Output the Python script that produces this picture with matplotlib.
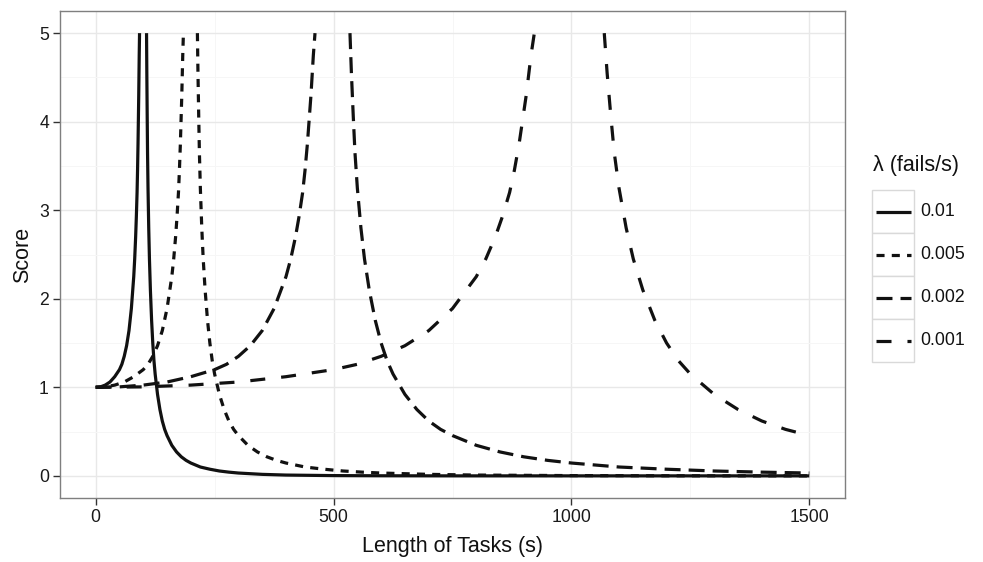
import matplotlib
matplotlib.use("Agg")
import matplotlib.pyplot as plt
from matplotlib.patches import Rectangle
from matplotlib.lines import Line2D

plt.rcParams['font.family'] = ['Liberation Sans', 'DejaVu Sans']
plt.rcParams['lines.scale_dashes'] = False

# values (y above 5 is cut off, so each curve has two branches)
rise_y = [1.0, 1.005, 1.025, 1.06, 1.12, 1.20, 1.26, 1.35, 1.47, 1.64, 1.89,
          2.25, 2.45, 2.7, 2.93, 3.2, 3.45, 3.75, 4.3, 4.75, 5.0]
fall_y = [5.0, 4.55, 4.05, 3.65, 3.25, 2.8, 2.45, 2.1, 1.76, 1.50, 1.30, 1.15,
          0.92, 0.75, 0.62, 0.525, 0.455, 0.345, 0.27, 0.215, 0.175, 0.145,
          0.10, 0.075, 0.055, 0.042, 0.032, 0.017, 0.009, 0.003, 0.001, 0.0,
          0.0, 0.0, 0.0]

x01_rise = [0, 10, 20, 30, 40, 50, 55, 60, 65, 70, 75, 80, 82, 84, 85.5, 87, 88,
            89, 90.5, 91.5, 92.2]
x01_fall = [106.9, 107.5, 108.3, 109, 110, 111.5, 113, 115, 117.5, 120, 122.5, 125,
            130, 135, 140, 145, 150, 160, 170, 180, 190, 200, 220, 240, 260, 280,
            300, 350, 400, 500, 600, 750, 1000, 1250, 1500]

x005_rise = [0, 20, 40, 60, 80, 100, 110, 120, 130, 140, 150, 160, 164, 168, 171,
             174, 176, 178, 181, 183, 184.4]
x005_fall = [213.8, 215, 216.6, 218, 220, 223, 226, 230, 235, 240, 245, 250, 260, 270,
             280, 290, 300, 320, 340, 360, 380, 400, 440, 480, 520, 560, 600, 700,
             800, 1000, 1200, 1500]

x002_rise = [0, 50, 100, 150, 200, 250, 275, 300, 325, 350, 375, 400, 410, 420, 427.5,
             435, 440, 445, 452.5, 457.5, 461]
x002_fall = [534.5, 537.5, 541.5, 545, 550, 557.5, 565, 575, 587.5, 600, 612.5, 625,
             650, 675, 700, 725, 750, 800, 850, 900, 950, 1000, 1100, 1200, 1300,
             1400, 1500]

x001_rise = [0, 100, 200, 300, 400, 500, 550, 600, 650, 700, 750, 800, 820, 840, 855,
             870, 880, 890, 905, 915, 922]
x001_fall = [1069, 1075, 1083, 1090, 1100, 1115, 1130, 1150, 1175, 1200, 1225, 1250,
             1300, 1350, 1400, 1450, 1500]

labels = ['0.01', '0.005', '0.002', '0.001']
series = [(x01_rise, x01_fall), (x005_rise, x005_fall),
          (x002_rise, x002_fall), (x001_rise, x001_fall)]
dashes = [None, (5.8, 5.2), (11.5, 5.8), (10.8, 11.5)]

lw = 2.3
fig = plt.figure(figsize=(9.83, 5.62), dpi=100)
ax = fig.add_axes([60/983, 1 - 498/562, 785/983, 487/562])

for (xr, xf), d in zip(series, dashes):
    for xs, ys in ((xr, rise_y[:len(xr)]), (xf, fall_y[:len(xf)])):
        ln, = ax.plot(xs, ys, color='#111111', lw=lw, solid_capstyle='butt',
                      dash_capstyle='butt')
        if d is not None:
            ln.set_dashes(d)

ax.set_xlim(-75, 1575)
ax.set_ylim(-0.25, 5.25)
ax.set_xticks([0, 500, 1000, 1500])
ax.set_xticks([250, 750, 1250], minor=True)
ax.set_yticks([0, 1, 2, 3, 4, 5])
ax.set_yticks([0.5, 1.5, 2.5, 3.5, 4.5], minor=True)
ax.grid(which='major', color='#E8E8E8', lw=1.0)
ax.grid(which='minor', color='#F6F6F6', lw=0.7)
ax.set_axisbelow(True)
for s in ax.spines.values():
    s.set_color('#7F7F7F')
    s.set_linewidth(1.0)
ax.tick_params(which='major', length=5, width=1.0, color='#333333',
               labelsize=12.7, labelcolor='#1a1a1a', pad=3)
ax.tick_params(which='minor', length=0)

ax.set_xlabel('Length of Tasks (s)', fontsize=15.5, color='#111111')
ax.set_ylabel('Score', fontsize=15.5, color='#111111')
ax.xaxis.set_label_coords(0.5, -0.078)
ax.yaxis.set_label_coords(-0.034, 0.5)

# legend drawn by hand in pixel coordinates
lg = fig.add_axes([0, 0, 1, 1])
lg.set_xlim(0, 983)
lg.set_ylim(562, 0)
lg.axis('off')
lg.text(873, 165, 'λ (fails/s)', fontsize=15.5, va='center', ha='left', color='#111111')
top = 190
for lab, d in zip(labels, dashes):
    lg.add_patch(Rectangle((872, top), 42, 43, facecolor='white',
                           edgecolor='#D9D9D9', lw=1.0))
    k = Line2D([876, 911], [top + 21.5, top + 21.5], color='#111111', lw=lw,
               solid_capstyle='butt', dash_capstyle='butt')
    if d is not None:
        k.set_dashes(d)
    lg.add_line(k)
    lg.text(920, top + 21.5, lab, fontsize=12.7, va='center', ha='left', color='#111111')
    top += 43

fig.savefig('out.png', dpi=100)
